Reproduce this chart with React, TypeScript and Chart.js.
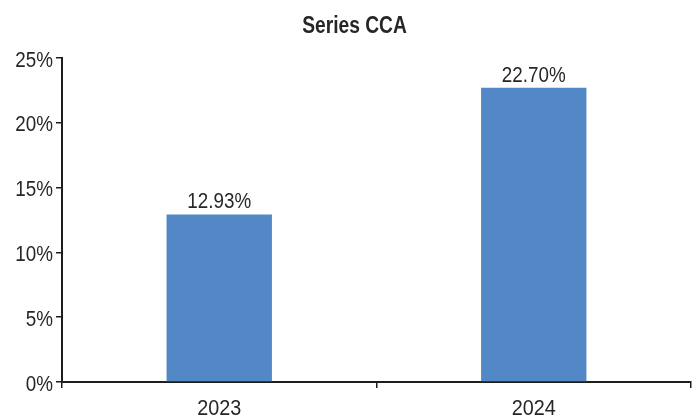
import React, { useEffect, useRef } from "react";
import { Chart, registerables } from "chart.js";

Chart.register(...registerables);

const categories = ["2023", "2024"];
const values = [12.93, 22.7];
const yTicks = [0, 5, 10, 15, 20, 25];
const titleText = "Series CCA";

const FONT = "'Liberation Sans', Arial, sans-serif";
const TEXT = "#262626";
const AXIS = "#1e1e1e";
const BAR = "rgb(81,136,197)";
const SX = 0.855;

function drawText(ctx: any, text: string, x: number, y: number, align: string, font: string, sx: number) {
  ctx.save();
  ctx.font = font;
  ctx.fillStyle = TEXT;
  ctx.textAlign = align;
  ctx.textBaseline = "alphabetic";
  ctx.translate(x, y);
  ctx.scale(sx, 1);
  ctx.fillText(text, 0, 0);
  ctx.restore();
}

const textPlugin = {
  id: "condensedText",
  afterDraw(chart: any) {
    const ctx = chart.ctx;
    const xs = chart.scales.x;
    const ys = chart.scales.y;
    const area = chart.chartArea;
    const f22 = `22px ${FONT}`;
    // title
    drawText(ctx, titleText, (area.left + area.right) / 2 - 22, 33, "center", `bold 23px ${FONT}`, 0.835);
    // y tick labels
    yTicks.forEach((v) => {
      drawText(ctx, v + "%", area.left - 9, ys.getPixelForValue(v) + 8.5, "right", f22, SX);
    });
    // x tick labels
    categories.forEach((c, i) => {
      drawText(ctx, c, xs.getPixelForValue(i), 415, "center", f22, 0.9);
    });
    // data labels
    const meta = chart.getDatasetMeta(0);
    meta.data.forEach((el: any, i: number) => {
      drawText(ctx, values[i].toFixed(2) + "%", el.x, el.y - 6, "center", f22, SX);
    });
  },
};

export default function App() {
  const ref = useRef<HTMLCanvasElement>(null);
  useEffect(() => {
    document.body.style.margin = "0";
    const chart = new Chart(ref.current!, {
      type: "bar",
      data: {
        labels: categories,
        datasets: [
          {
            data: values,
            backgroundColor: BAR,
            categoryPercentage: 1,
            barPercentage: 0.335,
          },
        ],
      },
      plugins: [textPlugin],
      options: {
        animation: false,
        responsive: false,
        devicePixelRatio: 1,
        layout: { padding: { left: 0, right: 8, top: 58, bottom: 0 } },
        plugins: {
          legend: { display: false },
          tooltip: { enabled: false },
          title: { display: false },
        },
        scales: {
          x: {
            offset: true,
            grid: {
              offset: true,
              drawOnChartArea: false,
              drawTicks: true,
              tickLength: 6,
              color: AXIS,
              lineWidth: 1.5,
            },
            border: { display: true, color: AXIS, width: 2 },
            ticks: {
              color: "rgba(0,0,0,0)",
              font: { family: FONT, size: 22 },
              padding: 6,
              maxRotation: 0,
            },
            afterFit: (s: any) => {
              s.height = 34;
            },
          },
          y: {
            min: 0,
            max: 25,
            afterBuildTicks: (s: any) => {
              s.ticks = yTicks.map((v) => ({ value: v }));
            },
            grid: {
              drawOnChartArea: false,
              drawTicks: true,
              tickLength: 6,
              color: AXIS,
              lineWidth: 1.5,
            },
            border: { display: true, color: AXIS, width: 2 },
            ticks: {
              color: "rgba(0,0,0,0)",
              font: { family: FONT, size: 22 },
              padding: 3,
              callback: (v: any) => v + "%",
            },
            afterFit: (s: any) => {
              s.width = 62;
            },
          },
        },
      },
    });
    return () => chart.destroy();
  }, []);
  return (
    <div style={{ width: 699, height: 416 }}>
      <canvas ref={ref} width={699} height={416} style={{ display: "block" }} />
    </div>
  );
}
